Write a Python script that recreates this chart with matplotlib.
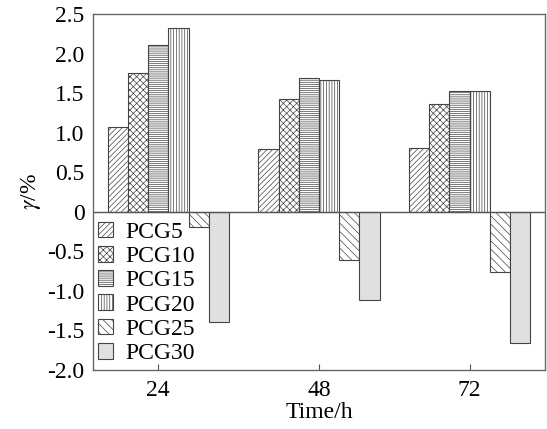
import matplotlib.pyplot as plt
import matplotlib.ticker as mticker
import numpy as np

# Werte
times = ["24", "48", "72"]
series = ["PCG5", "PCG10", "PCG15", "PCG20", "PCG25", "PCG30"]
pcg5 = [1.07, 0.79, 0.80]
pcg10 = [1.75, 1.42, 1.36]
pcg15 = [2.11, 1.69, 1.53]
pcg20 = [2.32, 1.67, 1.53]
pcg25 = [-0.19, -0.61, -0.76]
pcg30 = [-1.39, -1.12, -1.66]
values = [pcg5, pcg10, pcg15, pcg20, pcg25, pcg30]

hatches = ["//////", "xxxxx", "--------", "||||||", "\\\\\\\\", ""]
faces = ["white", "white", "white", "white", "white", "#e0e0e0"]

plt.rcParams["font.family"] = ["Liberation Serif", "DejaVu Serif"]
plt.rcParams["mathtext.fontset"] = "stix"
plt.rcParams["hatch.linewidth"] = 0.5

fig = plt.figure(figsize=(5.47, 4.29), dpi=100)
ax = fig.add_axes([0.170, 0.1375, 0.8263, 0.83])

width = 0.134
x = np.arange(len(times))
for i, (name, vals) in enumerate(zip(series, values)):
    offset = (i - 2.5) * width
    ax.bar(x + offset, vals, width, label=name, facecolor=faces[i],
           edgecolor="#444444", hatch=hatches[i], linewidth=0.8)

ax.axhline(0, color="#555555", linewidth=1.0)
ax.set_xlim(-0.5, 2.5)
ax.set_ylim(-2.0, 2.5)

# Tick bei 24 sitzt im Original leicht links der Gruppenmitte
ax.set_xticks([-0.07, 1.0, 2.0])
ax.set_xticklabels(times)
ax.set_yticks(np.arange(-2.0, 2.51, 0.5))
ax.yaxis.set_major_formatter(mticker.FuncFormatter(
    lambda v, p: "0" if abs(v) < 1e-9 else f"{v:.1f}".replace("\u2212", "-")))

ax.tick_params(axis="x", direction="in", length=4, labelsize=17, pad=7,
               color="#555555")
ax.tick_params(axis="y", direction="out", length=0, labelsize=17, pad=6)
for s in ax.spines.values():
    s.set_color("#666666")
    s.set_linewidth(1.0)

ax.set_xlabel("Time/h", fontsize=17, labelpad=1)
ax.set_ylabel(r"$\gamma$/%", fontsize=17, labelpad=3)

ax.legend(loc="upper left", bbox_to_anchor=(0.0, 0.43), frameon=False,
          fontsize=17, handlelength=0.65, handleheight=0.65,
          handletextpad=0.5, labelspacing=0.13, borderaxespad=0.1,
          borderpad=0.1)

fig.savefig("out.png", dpi=100)
plt.close(fig)
